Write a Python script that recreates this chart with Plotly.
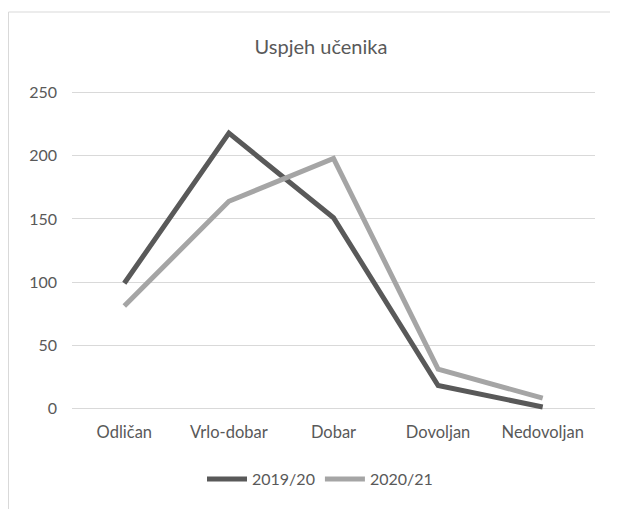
import plotly.graph_objects as go

categories = ["Odličan", "Vrlo-dobar", "Dobar", "Dovoljan", "Nedovoljan"]
values_2019 = [99, 218, 151, 18, 1]
values_2020 = [81, 164, 198, 31, 8]

FONT = "Lato, 'Open Sans', sans-serif"
TEXT = "#595959"
GRID = "#D9D9D9"

# the page body adds an 8px margin, so the figure is 8px smaller and everything
# below is given in the reference's pixel coordinates
OFF = 8
W, H = 618 - OFF, 509 - OFF
L, R, T, B = 72 - OFF, 618 - 595, 89 - OFF, 509 - 412
pw, ph = W - L - R, H - T - B


def px_x(p):
    return (p - OFF - L) / pw


def px_y(p):
    return (H - B - (p - OFF)) / ph


fig = go.Figure()
fig.add_trace(go.Scatter(x=categories, y=values_2019, mode="lines", name="2019/20",
                         line=dict(color="#595959", width=5)))
fig.add_trace(go.Scatter(x=categories, y=values_2020, mode="lines", name="2020/21",
                         line=dict(color="#A5A5A5", width=5)))

fig.update_layout(
    width=W, height=H,
    margin=dict(l=L, r=R, t=T, b=B),
    paper_bgcolor="white", plot_bgcolor="white",
    font=dict(family=FONT, size=16, color=TEXT),
    title=dict(text="Uspjeh učenika", xref="paper", x=px_x(321), xanchor="center",
               yref="container", y=1 - (47 - OFF) / H, yanchor="middle",
               font=dict(size=20, color=TEXT)),
    xaxis=dict(range=[-0.5, 4.5], showgrid=False, showline=False, ticks="",
               tickfont=dict(size=16.5), ticklabelstandoff=8),
    yaxis=dict(range=[-3, 253], tickvals=[0, 50, 100, 150, 200, 250],
               gridcolor=GRID, gridwidth=1, zeroline=False, showline=False,
               ticks="", tickfont=dict(size=16), ticklabelstandoff=14),
    legend=dict(orientation="h", x=px_x(320), xanchor="center", y=px_y(479),
                yanchor="middle", font=dict(size=16), itemwidth=40),
    shapes=[
        dict(type="line", xref="paper", yref="paper", x0=px_x(8.5), x1=px_x(8.5),
             y0=px_y(12), y1=px_y(520), line=dict(color=GRID, width=1)),
        dict(type="line", xref="paper", yref="paper", x0=px_x(8.5), x1=px_x(630),
             y0=px_y(12), y1=px_y(12), line=dict(color=GRID, width=1)),
    ],
)

fig.write_html("out.html")
